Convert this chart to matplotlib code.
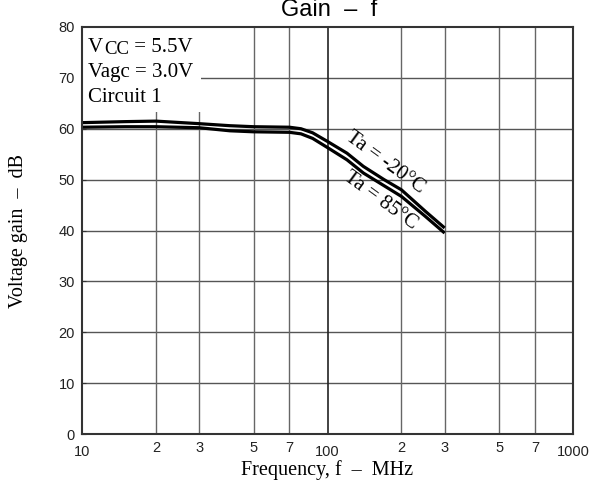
import matplotlib
matplotlib.use("Agg")
import matplotlib.pyplot as plt
from matplotlib.ticker import FixedLocator, FixedFormatter
from matplotlib.patches import Rectangle

# Data
freq_mhz = [10, 15, 20, 30, 40, 50, 70, 78, 87, 100, 120, 140, 170, 200, 250, 300]
gain_m20 = [61.2, 61.4, 61.5, 61.0, 60.6, 60.4, 60.3, 60.0, 59.2, 57.5, 55.2, 52.6, 50.0, 48.0, 43.8, 40.5]
gain_85 = [60.3, 60.4, 60.4, 60.2, 59.6, 59.4, 59.3, 59.0, 58.1, 56.3, 53.9, 51.3, 48.8, 46.7, 42.8, 39.5]

major_ticks = [10, 100, 1000]
major_labels = ["10", "100", "1000"]
minor_ticks = [20, 30, 50, 70, 200, 300, 500, 700]
minor_labels = ["2", "3", "5", "7", "2", "3", "5", "7"]
y_ticks = [0, 10, 20, 30, 40, 50, 60, 70, 80]

serif = ["Liberation Serif", "DejaVu Serif"]
sans = ["Liberation Sans", "DejaVu Sans"]

fig = plt.figure(figsize=(5.92, 4.84), dpi=100)
ax = fig.add_axes([82/592, 1-434/484, (573-82)/592, (434-27)/484])

ax.set_xscale("log")
ax.set_xlim(10, 1000)
ax.set_ylim(0, 80)

# grid
for yv in y_ticks[1:-1]:
    ax.axhline(yv, color="#555555", lw=1.0, zorder=1)
for xv in minor_ticks:
    ax.axvline(xv, color="#666666", lw=1.0, zorder=1)
ax.axvline(100, color="#222222", lw=1.2, zorder=1)

# white info box covering the grid
ax.add_patch(Rectangle((0, 0.791), 0.243, 0.209, transform=ax.transAxes,
                       facecolor="white", edgecolor="none", zorder=2))

ax.plot(freq_mhz, gain_m20, color="black", lw=2.3, zorder=3,
        solid_capstyle="butt", solid_joinstyle="round")
ax.plot(freq_mhz, gain_85, color="black", lw=2.3, zorder=3,
        solid_capstyle="butt", solid_joinstyle="round")

for s in ax.spines.values():
    s.set_color("#333333")
    s.set_linewidth(1.5)
    s.set_zorder(5)

ax.xaxis.set_major_locator(FixedLocator(major_ticks))
ax.xaxis.set_major_formatter(FixedFormatter(major_labels))
ax.xaxis.set_minor_locator(FixedLocator(minor_ticks))
ax.xaxis.set_minor_formatter(FixedFormatter(minor_labels))
ax.set_yticks(y_ticks)
ax.set_yticklabels([str(v) for v in y_ticks])

ax.tick_params(axis="x", which="major", direction="in", length=0, pad=8,
               labelsize=10.5, labelcolor="#222222")
ax.tick_params(axis="x", which="minor", direction="in", length=0, pad=5,
               labelsize=10.5, labelcolor="#222222")
ax.tick_params(axis="y", direction="in", length=3, pad=5, labelsize=10.5,
               labelcolor="#222222", color="#333333")
for lab in ax.get_xticklabels(which="both") + ax.get_yticklabels():
    lab.set_family(sans)

# info box text (V_CC built from pieces so the subscript matches the reference)
anchor = (0.012, 0.9386)
ax.annotate("V", xy=anchor, xycoords="axes fraction", xytext=(0, 0),
            textcoords="offset points", family=serif, fontsize=15,
            va="baseline", ha="left", zorder=4)
ax.annotate("CC", xy=anchor, xycoords="axes fraction", xytext=(11.8, -1.8),
            textcoords="offset points", family=serif, fontsize=13.5,
            va="baseline", ha="left", zorder=4)
ax.annotate(" = 5.5V", xy=anchor, xycoords="axes fraction", xytext=(29.5, 0),
            textcoords="offset points", family=serif, fontsize=15,
            va="baseline", ha="left", zorder=4)
ax.text(0.012, 0.877, "Vagc = 3.0V", transform=ax.transAxes,
        family=serif, fontsize=15, va="baseline", ha="left", zorder=4)
ax.text(0.012, 0.8157, "Circuit 1", transform=ax.transAxes,
        family=serif, fontsize=15, va="baseline", ha="left", zorder=4)

ax.text(172, 53.4, "Ta = -20°C", family=serif, fontsize=15, rotation=-36,
        ha="center", va="center", rotation_mode="anchor", zorder=4)
ax.text(164, 45.8, "Ta = 85°C", family=serif, fontsize=15, rotation=-36,
        ha="center", va="center", rotation_mode="anchor", zorder=4)

ax.set_xlabel("Frequency, f  –  MHz", family=serif, fontsize=14.5, labelpad=1)
ax.set_ylabel("Voltage gain  –  dB", family=serif, fontsize=14.5, labelpad=22)

fig.text(329/592, 1-16/484, "Gain  –  f", family=sans, fontsize=17,
         ha="center", va="baseline")

fig.savefig("out.png", dpi=100, facecolor="white")
